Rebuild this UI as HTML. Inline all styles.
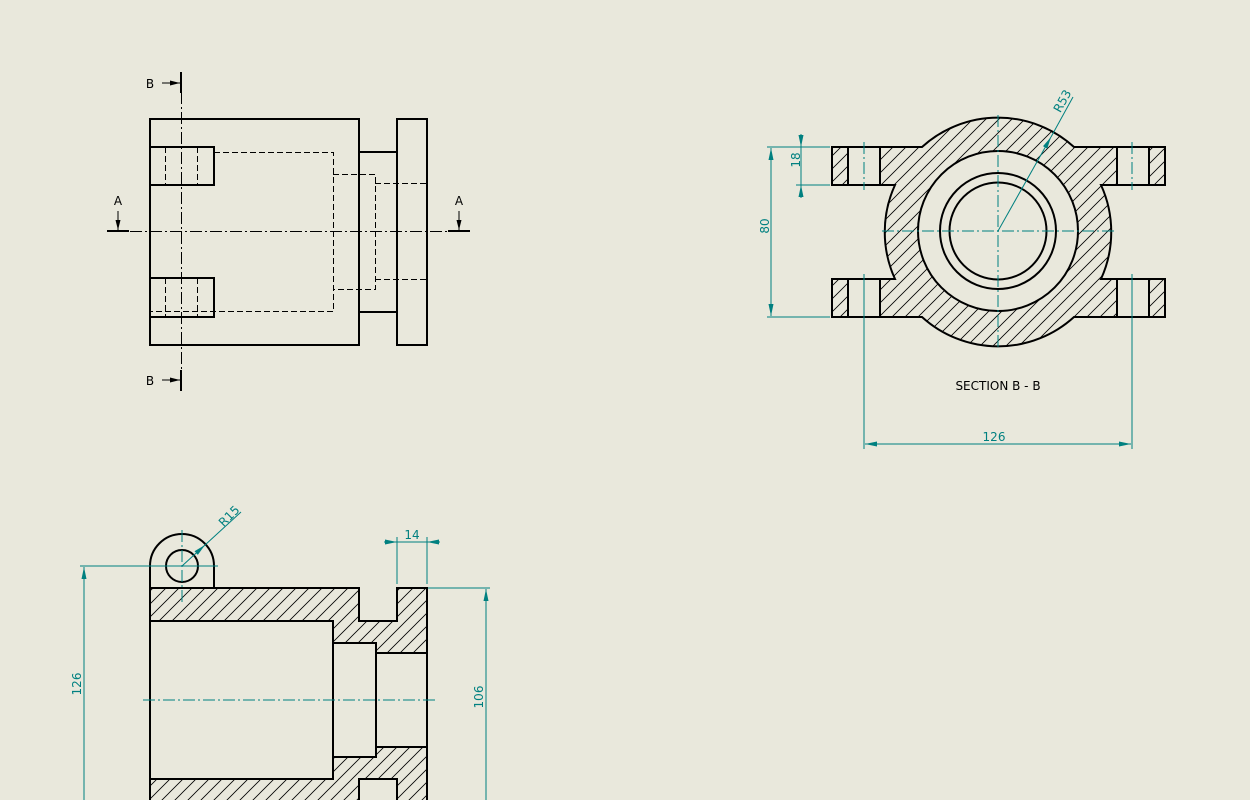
<!DOCTYPE html>
<html><head><meta charset="utf-8"><style>
html,body{margin:0;padding:0;background:#e9e8dc;}
svg{display:block;}
text{font-family:"DejaVu Sans","Liberation Sans",sans-serif;}
</style></head><body>
<svg width="1250" height="800" viewBox="0 0 1250 800" xmlns="http://www.w3.org/2000/svg">
<defs>
<pattern id="h" patternUnits="userSpaceOnUse" width="13" height="13">
<path d="M-1,14 L14,-1 M-7,7 L7,-7 M6,20 L20,6" stroke="#000" stroke-width="0.8"/>
</pattern>
<marker id="ar" viewBox="0 0 12 6" refX="12" refY="3" markerWidth="12" markerHeight="6" markerUnits="userSpaceOnUse" orient="auto-start-reverse"><path d="M0,0.5 L12,3 L0,5.5 Z" fill="#008080"/></marker>
<marker id="ak" viewBox="0 0 10 6" refX="10" refY="3" markerWidth="10" markerHeight="6" markerUnits="userSpaceOnUse" orient="auto"><path d="M0,0.5 L10,3 L0,5.5 Z" fill="#000"/></marker>
</defs>
<rect width="1250" height="800" fill="#e9e8dc"/>

<!-- Top-left view -->
<g fill="none" stroke="#000" stroke-width="2">
<rect x="150" y="119" width="209" height="226"/>
<rect x="397" y="119" width="30" height="226"/>
<line x1="359" y1="152" x2="397" y2="152"/>
<line x1="359" y1="312" x2="397" y2="312"/>
<path d="M150,147 H214 V185 H150"/>
<path d="M150,278 H214 V317 H150"/>
</g>
<g fill="none" stroke="#000" stroke-width="1" stroke-dasharray="6 3" shape-rendering="crispEdges">
<path d="M214,152.5 H333.5 V311.5 H150"/>
<line x1="165.5" y1="147" x2="165.5" y2="185"/><line x1="197.5" y1="147" x2="197.5" y2="185"/>
<line x1="165.5" y1="278" x2="165.5" y2="317"/><line x1="197.5" y1="278" x2="197.5" y2="317"/>
<path d="M333,174.5 H375.5 V289.5 H333"/>
<line x1="375" y1="183.5" x2="427" y2="183.5"/><line x1="375" y1="279.5" x2="427" y2="279.5"/>
</g>
<g stroke="#000" stroke-width="1" stroke-dasharray="12 3 2 3" shape-rendering="crispEdges">
<line x1="130" y1="231.5" x2="448" y2="231.5"/>
<line x1="181.5" y1="72" x2="181.5" y2="392"/>
</g>
<g stroke="#000" stroke-width="2">
<line x1="107" y1="231" x2="129" y2="231"/><line x1="448" y1="231" x2="470" y2="231"/>
<line x1="181" y1="72" x2="181" y2="93"/><line x1="181" y1="370" x2="181" y2="391"/>
</g>
<g stroke="#000" stroke-width="1">
<line x1="118" y1="211" x2="118" y2="230" marker-end="url(#ak)"/>
<line x1="459" y1="211" x2="459" y2="230" marker-end="url(#ak)"/>
<line x1="162" y1="83" x2="180" y2="83" marker-end="url(#ak)"/>
<line x1="162" y1="380" x2="180" y2="380" marker-end="url(#ak)"/>
</g>
<g font-size="12" fill="#000" text-anchor="middle">
<text x="118" y="205">A</text><text x="459" y="205">A</text>
<text x="150" y="88">B</text><text x="150" y="385">B</text>
</g>

<!-- Section B-B -->
<path fill="url(#h)" fill-rule="evenodd" stroke="#000" stroke-width="2" d="M832,147 H922 A113,113 0 0 1 1074,147 H1165 V185 H1101 A113,113 0 0 1 1101,279 H1165 V317 H1074 A113,113 0 0 1 922,317 H832 V279 H895 A113,113 0 0 1 895,185 H832 Z M918,231 A80,80 0 1 0 1078,231 A80,80 0 1 0 918,231 Z M848,147 H880 V185 H848 Z M848,279 H880 V317 H848 Z M1117,147 H1149 V185 H1117 Z M1117,279 H1149 V317 H1117 Z"/>
<g fill="none" stroke="#000" stroke-width="2">
<circle cx="998" cy="231" r="58"/><circle cx="998" cy="231" r="48.5"/>
</g>
<g stroke="#008080" stroke-width="1" stroke-dasharray="12 3 2 3" fill="none">
<line x1="882" y1="231" x2="1115" y2="231"/>
<line x1="998" y1="115" x2="998" y2="348"/>
<line x1="864" y1="142" x2="864" y2="190"/><line x1="1132" y1="142" x2="1132" y2="190"/>
</g>
<g stroke="#008080" stroke-width="1" fill="none">
<line x1="864" y1="274" x2="864" y2="449"/><line x1="1132" y1="274" x2="1132" y2="449"/>
<line x1="865" y1="444" x2="1131" y2="444" marker-start="url(#ar)" marker-end="url(#ar)"/>
<line x1="767" y1="147" x2="830" y2="147"/><line x1="767" y1="317" x2="830" y2="317"/>
<line x1="796" y1="185" x2="830" y2="185"/>
<line x1="771" y1="148" x2="771" y2="316" marker-start="url(#ar)" marker-end="url(#ar)"/>
<line x1="801" y1="134" x2="801" y2="147" marker-end="url(#ar)"/>
<line x1="801" y1="198" x2="801" y2="185" marker-end="url(#ar)"/>
<line x1="801" y1="147" x2="801" y2="185"/>
<line x1="998" y1="231" x2="1051" y2="137" marker-end="url(#ar)"/>
<line x1="1051" y1="137" x2="1073" y2="97"/>
</g>
<g fill="#008080" font-size="12" text-anchor="middle">
<text x="994" y="441">126</text>
<text transform="translate(800,160) rotate(-90)">18</text>
<text transform="translate(769,226) rotate(-90)">80</text>
<text transform="translate(1066,103) rotate(-61)">R53</text>
</g>
<text x="998" y="390" font-size="12" text-anchor="middle" fill="#000">SECTION B - B</text>

<!-- Bottom view -->
<path fill="url(#h)" stroke="#000" stroke-width="2" d="M150,588 H359 V621 H397 V588 H427 V653 H376 V643 H333 V621 H150 Z"/>
<path fill="url(#h)" stroke="#000" stroke-width="2" d="M150,812 H359 V779 H397 V812 H427 V747 H376 V757 H333 V779 H150 Z"/>
<g fill="none" stroke="#000" stroke-width="2">
<line x1="150" y1="621" x2="150" y2="779"/>
<line x1="333" y1="643" x2="333" y2="757"/>
<line x1="376" y1="653" x2="376" y2="747"/>
<line x1="427" y1="653" x2="427" y2="747"/>
<path d="M150,588 V566 A32,32 0 0 1 214,566 V588"/>
<circle cx="182" cy="566" r="16"/>
</g>
<g stroke="#008080" stroke-width="1" stroke-dasharray="12 3 2 3" fill="none">
<line x1="143" y1="700" x2="436" y2="700"/>
<line x1="182" y1="530" x2="182" y2="602"/>
</g>
<g stroke="#008080" stroke-width="1" fill="none">
<line x1="80" y1="566" x2="218" y2="566"/>
<line x1="84" y1="567" x2="84" y2="800" marker-start="url(#ar)"/>
<line x1="428" y1="588" x2="490" y2="588"/>
<line x1="486" y1="589" x2="486" y2="800" marker-start="url(#ar)"/>
<line x1="397" y1="537" x2="397" y2="584"/><line x1="427" y1="537" x2="427" y2="584"/>
<line x1="384" y1="542" x2="397" y2="542" marker-end="url(#ar)"/>
<line x1="440" y1="542" x2="427" y2="542" marker-end="url(#ar)"/>
<line x1="397" y1="542" x2="427" y2="542"/>
<line x1="182" y1="566" x2="205" y2="545" marker-end="url(#ar)"/>
<line x1="205" y1="545" x2="241" y2="512"/>
</g>
<g fill="#008080" font-size="12" text-anchor="middle">
<text x="412" y="539">14</text>
<text transform="translate(81,684) rotate(-90)">126</text>
<text transform="translate(483,697) rotate(-90)">106</text>
<text transform="translate(232,519) rotate(-45)">R15</text>
</g>
</svg>
</body></html>
